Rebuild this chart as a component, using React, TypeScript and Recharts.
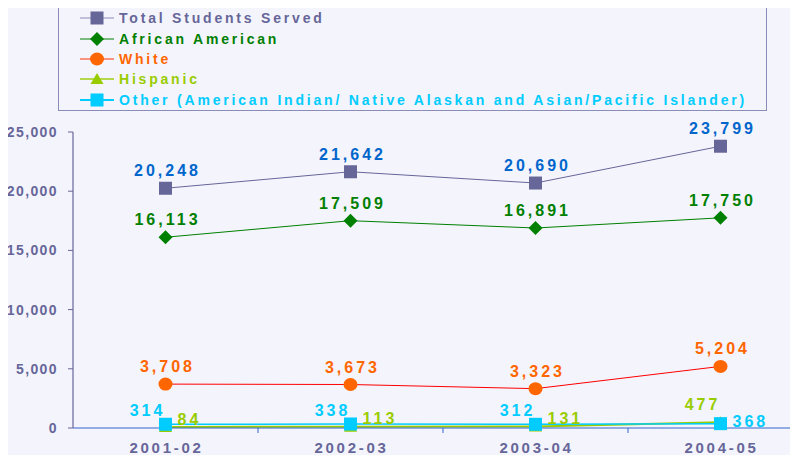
import React from 'react';
import { LineChart, Line, XAxis, YAxis, LabelList } from 'recharts';

// --- data ---
const years = ['2001-02', '2002-03', '2003-04', '2004-05'];
const totalServed = [20248, 21642, 20690, 23799];
const africanAmerican = [16113, 17509, 16891, 17750];
const white = [3708, 3673, 3323, 5204];
const hispanic = [84, 113, 131, 477];
const other = [314, 338, 312, 368];
const yTicks = [0, 5000, 10000, 15000, 20000, 25000];

// x positions sit in the middle of each year band, band edges get the tick marks
const rows = years.map((year, i) => ({
    x: i + 0.5,
    year,
    total: totalServed[i],
    african: africanAmerican[i],
    white: white[i],
    hispanic: hispanic[i],
    other: other[i],
}));
const xTicks = [0.5, 1, 1.5, 2, 2.5, 3, 3.5];

const FONT = '"Liberation Sans", Arial, sans-serif';
const BG = '#f4f4fc';
const AXIS = '#666699';

type Place = 'top' | 'left' | 'right';
interface SeriesDef {
    key: string;
    name: string;
    line: string;
    marker: string;
    label: string;
    legendText: string;
    legendLine: string;
    shape: 'square' | 'diamond' | 'circle' | 'triangle';
    width: number;
    places: Place[];
    rightDy: number;
}

const series: SeriesDef[] = [
    { key: 'total', name: 'Total Students Served', line: '#666699', marker: '#666699', label: '#0066cc', legendText: '#666699', legendLine: '#8a8ab8', shape: 'square', width: 1, places: ['top', 'top', 'top', 'top'], rightDy: 0 },
    { key: 'african', name: 'African American', line: '#008000', marker: '#008000', label: '#008000', legendText: '#008000', legendLine: '#008000', shape: 'diamond', width: 1, places: ['top', 'top', 'top', 'top'], rightDy: 0 },
    { key: 'white', name: 'White', line: '#ff0000', marker: '#ff6600', label: '#ff6600', legendText: '#ff6600', legendLine: '#ff3300', shape: 'circle', width: 1, places: ['top', 'top', 'top', 'top'], rightDy: 0 },
    { key: 'hispanic', name: 'Hispanic', line: '#99cc00', marker: '#99cc00', label: '#99cc00', legendText: '#99cc00', legendLine: '#b4d84a', shape: 'triangle', width: 2, places: ['right', 'right', 'right', 'left'], rightDy: -8 },
    { key: 'other', name: 'Other (American Indian/ Native Alaskan and Asian/Pacific Islander)', line: '#00ccff', marker: '#00ccff', label: '#00ccff', legendText: '#00ccff', legendLine: '#00ccff', shape: 'square', width: 1.5, places: ['left', 'left', 'left', 'right'], rightDy: -2 },
];

// --- markers ---
const Marker: React.FC<{ cx: number; cy: number; shape: string; fill: string }> = ({ cx, cy, shape, fill }) => {
    if (shape === 'square') return <rect x={cx - 6.5} y={cy - 6.5} width={13} height={13} fill={fill} />;
    if (shape === 'diamond') return <polygon points={`${cx},${cy - 7} ${cx + 7},${cy} ${cx},${cy + 7} ${cx - 7},${cy}`} fill={fill} />;
    if (shape === 'circle') return <ellipse cx={cx} cy={cy} rx={7} ry={6.5} fill={fill} />;
    return <polygon points={`${cx},${cy - 6} ${cx + 6.5},${cy + 5} ${cx - 6.5},${cy + 5}`} fill={fill} />;
};

const fmt = (v: number) => v.toLocaleString('en-US');

const renderLabel = (s: SeriesDef) => (props: any) => {
    const { x, y, value, index } = props;
    const place = s.places[index] || 'top';
    const common = { fill: s.label, fontFamily: FONT, fontWeight: 700, fontSize: 16, letterSpacing: 3 };
    if (place === 'right') {
        return <text x={x + 12} y={y + s.rightDy} dy="0.35em" textAnchor="start" {...common}>{fmt(value)}</text>;
    }
    if (place === 'left') {
        const dy = s.key === 'other' ? -8 : -12;
        return <text x={x - 18} y={y + dy} textAnchor="middle" {...common}>{fmt(value)}</text>;
    }
    return <text x={x + 2} y={y - 12} textAnchor="middle" {...common}>{fmt(value)}</text>;
};

// year labels in the band middles, small tick marks on band edges
const XTick: React.FC<any> = ({ x, y, payload }) => {
    const v = payload.value as number;
    if (Number.isInteger(v)) {
        return <line x1={x} x2={x} y1={y - 13} y2={y - 8} stroke="#3366cc" strokeWidth={1} />;
    }
    return (
        <text x={x + 1} y={y} dy="0.78em" textAnchor="middle" fill={AXIS} fontFamily={FONT} fontWeight={700} fontSize={15} letterSpacing={2.7}>
            {years[Math.floor(v)]}
        </text>
    );
};

const LegendBox: React.FC = () => (
    <div style={{
        position: 'absolute', left: 58, top: 5, width: 707, height: 102,
        border: '1.5px solid #8c8cb8', background: BG, paddingTop: 2, boxSizing: 'content-box',
    }}>
        {series.map(s => (
            <div key={s.key} style={{ display: 'flex', alignItems: 'center', height: 20.4, paddingLeft: 21 }}>
                <svg width={34} height={14} style={{ marginRight: 5 }}>
                    <line x1={0} x2={34} y1={7} y2={7} stroke={s.legendLine} strokeWidth={s.width > 1 ? 2 : 1.2} />
                    <Marker cx={17} cy={7} shape={s.shape} fill={s.marker} />
                </svg>
                <span style={{ color: s.legendText, fontFamily: FONT, fontWeight: 700, fontSize: 14, letterSpacing: 2.8, whiteSpace: 'nowrap' }}>
                    {s.name}
                </span>
            </div>
        ))}
    </div>
);

export default function App() {
    return (
        <div style={{ margin: -8, width: 798, height: 463, overflow: 'hidden', position: 'relative', background: BG }}>
            <LineChart width={820} height={463} data={rows} margin={{ top: 132, right: 7, bottom: 5, left: 8 }}>
                <XAxis
                    dataKey="x"
                    type="number"
                    domain={[0, 4]}
                    ticks={xTicks}
                    interval={0}
                    height={30}
                    tickSize={5}
                    tickMargin={8}
                    tickLine={false}
                    axisLine={{ stroke: '#3366cc', strokeWidth: 1.2 }}
                    tick={<XTick />}
                />
                <YAxis
                    domain={[0, 25000]}
                    ticks={yTicks}
                    width={65}
                    tickSize={5}
                    tickMargin={10}
                    tickFormatter={fmt}
                    axisLine={{ stroke: AXIS, strokeWidth: 1.2 }}
                    tickLine={{ stroke: AXIS }}
                    tick={{ fill: AXIS, fontFamily: FONT, fontWeight: 700, fontSize: 14, letterSpacing: 1.4 }}
                />
                {series.map(s => (
                    <Line
                        key={s.key}
                        dataKey={s.key}
                        name={s.name}
                        type="linear"
                        stroke={s.line}
                        strokeWidth={s.width}
                        isAnimationActive={false}
                        dot={(p: any) => <Marker key={`${s.key}-${p.index}`} cx={p.cx} cy={p.cy} shape={s.shape} fill={s.marker} />}
                        activeDot={false}
                    >
                        <LabelList dataKey={s.key} content={renderLabel(s)} />
                    </Line>
                ))}
            </LineChart>
            <LegendBox />
        </div>
    );
}
